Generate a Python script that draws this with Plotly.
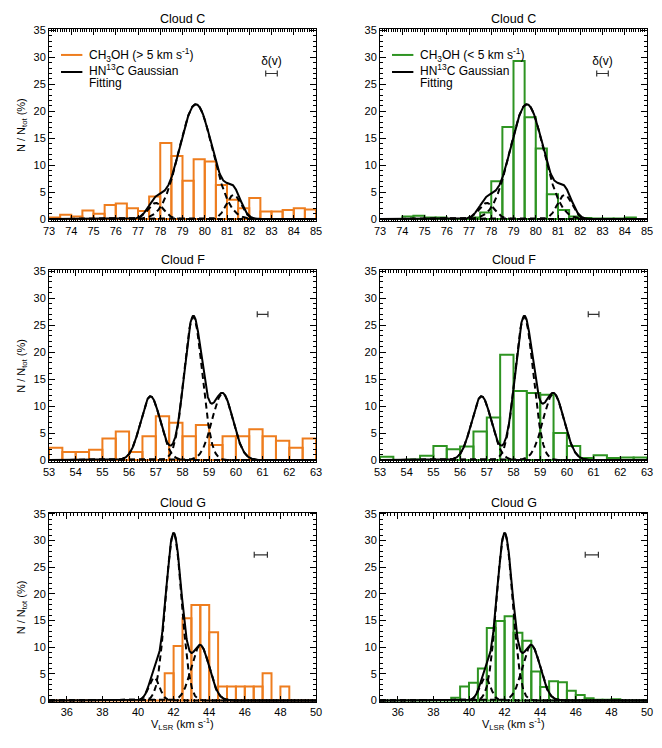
import numpy as np
import plotly.graph_objects as go

# ---------------- data ----------------
clouds = ["Cloud C", "Cloud F", "Cloud G"]
x_ranges = [[73, 85], [53, 63], [35, 50]]
x_dticks = [1, 1, 2]
x_minor = [0.1, 0.1, 0.2]

bin_width = 0.5
# lower edges of histogram bins
c_edges = [73.0, 73.5, 74.0, 74.5, 75.0, 75.5, 76.0, 76.5, 77.0, 77.5, 78.0, 78.5,
           79.0, 79.5, 80.0, 80.5, 81.0, 81.5, 82.0, 82.5, 83.0, 83.5, 84.0, 84.5]
f_edges = [53.0, 53.5, 54.0, 54.5, 55.0, 55.5, 56.0, 56.5, 57.0, 57.5,
           58.0, 58.5, 59.0, 59.5, 60.0, 60.5, 61.0, 61.5, 62.0, 62.5]
g_edges = [35.0, 35.5, 36.0, 36.5, 37.0, 37.5, 38.0, 38.5, 39.0, 39.5,
           40.0, 40.5, 41.0, 41.5, 42.0, 42.5, 43.0, 43.5, 44.0, 44.5,
           45.0, 45.5, 46.0, 46.5, 47.0, 47.5, 48.0, 48.5, 49.0, 49.5]

# CH3OH (> 5 km/s)  -- orange
c_fast = [0.3, 0.8, 0.5, 1.6, 1.0, 2.6, 2.9, 2.0, 1.5, 4.2, 14.1, 11.7,
          7.1, 11.1, 10.7, 6.3, 3.6, 2.0, 3.9, 1.4, 1.4, 1.7, 2.0, 1.8]
f_fast = [2.3, 1.5, 1.5, 1.9, 4.0, 5.3, 1.5, 4.4, 8.1, 6.9,
          4.4, 6.5, 2.8, 4.4, 4.4, 5.7, 4.4, 3.6, 2.3, 4.0]
g_fast = [0, 0, 0, 0, 0, 0, 0, 0, 0, 0,
          0, 0, 0, 5.1, 10.2, 15.4, 17.9, 17.9, 12.8, 2.6,
          2.6, 2.6, 2.6, 2.6, 5.1, 0, 2.6, 0, 0, 0]

# CH3OH (< 5 km/s)  -- green
c_slow = [0, 0, 0.5, 0.6, 0.3, 0.3, 0, 0, 0.3, 1.2, 7.0, 17.1,
          29.3, 18.9, 13.1, 4.6, 1.7, 0.5, 0.2, 0.1, 0.1, 0.1, 0.3, 0]
f_slow = [0.6, 0, 0.1, 0.8, 2.6, 2.0, 2.5, 5.3, 7.9, 19.5,
          12.8, 12.4, 12.1, 5.0, 2.6, 0.4, 0.9, 0.4, 0.5, 0.5]
g_slow = [0, 0, 0, 0, 0, 0, 0, 0, 0.5, 2.6,
          3.3, 6.0, 13.6, 14.9, 15.8, 12.7, 11.2, 5.4, 2.5, 3.6,
          3.4, 1.8, 1.0, 0.4, 0.1, 0.1, 0.2, 0, 0, 0]

# HN13C Gaussian fit components (amplitude %, centre km/s, sigma km/s)
c_amp, c_cen, c_sig = [3.0, 21.3, 4.5], [77.8, 79.6, 81.3], [0.35, 0.75, 0.33]
f_amp, f_cen, f_sig = [11.8, 26.5, 12.3], [56.8, 58.4, 59.5], [0.37, 0.34, 0.39]
g_amp, g_cen, g_sig = [4.3, 31.3, 10.3], [40.9, 42.0, 43.5], [0.30, 0.45, 0.50]

# velocity resolution bars delta(v): centre, half width, level
dv_center = [83.0, 61.0, 46.9]
dv_half = [0.26, 0.20, 0.37]
dv_level = [27.0, 27.0, 27.3]

edges = [c_edges, f_edges, g_edges]
fast = [c_fast, f_fast, g_fast]
slow = [c_slow, f_slow, g_slow]
fits = [(c_amp, c_cen, c_sig), (f_amp, f_cen, f_sig), (g_amp, g_cen, g_sig)]

ORANGE = "#EE7D1E"
GREEN = "#2E9422"
FONT = "Liberation Sans, Arial, sans-serif"

# ---------------- layout geometry ----------------
W, H = 662, 748
col_px = [(49, 316), (380, 647)]
row_px = [(29.3, 220.7), (270.0, 461.7), (512.7, 702.0)]

fig = go.Figure()
layout = dict(width=W, height=H, margin=dict(l=0, r=0, t=0, b=0, autoexpand=False),
              template="none",
              paper_bgcolor="white", plot_bgcolor="white", showlegend=False,
              font=dict(family=FONT, size=11, color="black"))
annotations = []
shapes = []

def gauss(x, a, c, s):
    return a * np.exp(-(x - c) ** 2 / (2 * s ** 2))

idx = 0
for r in range(3):
    for c in range(2):
        idx += 1
        xa = "x" if idx == 1 else f"x{idx}"
        ya = "y" if idx == 1 else f"y{idx}"
        xk = "xaxis" if idx == 1 else f"xaxis{idx}"
        yk = "yaxis" if idx == 1 else f"yaxis{idx}"
        x0p, x1p = col_px[c]
        y0p, y1p = row_px[r]
        xdom = [x0p / W, x1p / W]
        ydom = [1 - y1p / H, 1 - y0p / H]

        vals = fast[r] if c == 0 else slow[r]
        col = ORANGE if c == 0 else GREEN
        centers = [e + bin_width / 2 for e in edges[r]]
        fig.add_trace(go.Bar(x=centers, y=vals, width=bin_width, xaxis=xa, yaxis=ya,
                             marker=dict(color="rgba(0,0,0,0)", line=dict(color=col, width=2))))

        amp, cen, sig = fits[r]
        xx = np.linspace(x_ranges[r][0], x_ranges[r][1], 1200)
        total = np.zeros_like(xx)
        for a, m, s in zip(amp, cen, sig):
            comp = gauss(xx, a, m, s)
            total += comp
            fig.add_trace(go.Scatter(x=xx, y=comp, mode="lines", xaxis=xa, yaxis=ya,
                                     line=dict(color="black", width=2, dash="6px,4px")))
        fig.add_trace(go.Scatter(x=xx, y=total, mode="lines", xaxis=xa, yaxis=ya,
                                 line=dict(color="black", width=2)))

        # velocity resolution bar
        fig.add_trace(go.Scatter(x=[dv_center[r]], y=[dv_level[r]], mode="markers", xaxis=xa, yaxis=ya,
                                 marker=dict(size=1, color="rgba(0,0,0,0)"),
                                 error_x=dict(type="data", array=[dv_half[r]], color="#333333",
                                              thickness=1.2, width=3)))
        if r == 0:
            fig.add_trace(go.Scatter(x=[dv_center[r]], y=[dv_level[r] + 1.1], mode="text",
                                     text=["δ(v)"], textposition="top center", xaxis=xa, yaxis=ya,
                                     textfont=dict(size=12, family=FONT, color="black")))

        axcommon = dict(showgrid=False, zeroline=False, showline=True, linecolor="black",
                        linewidth=1, mirror="allticks", ticks="inside", ticklen=6,
                        automargin=False,
                        tickcolor="black", tickfont=dict(size=11, family=FONT, color="black"))
        layout[xk] = dict(axcommon, domain=xdom, anchor=ya, range=x_ranges[r],
                          dtick=x_dticks[r], tick0=0,
                          minor=dict(dtick=x_minor[r], ticks="inside", ticklen=3, tickcolor="black"))
        layout[yk] = dict(axcommon, domain=ydom, anchor=xa, range=[-0.3, 35.2],
                          tickvals=[0, 5, 10, 15, 20, 25, 30, 35],
                          minor=dict(dtick=1, ticks="inside", ticklen=3, tickcolor="black"))

        # panel title
        annotations.append(dict(text=clouds[r], xref=f"{xa} domain", yref="paper",
                                x=0.5, y=1 - (y0p - 10) / H, showarrow=False,
                                xanchor="center", yanchor="middle",
                                font=dict(size=12.5, family=FONT, color="black")))
        if c == 0:
            annotations.append(dict(text="N / N<sub>tot</sub> (%)", xref="paper", yref="paper",
                                    x=22 / W, y=1 - (y0p + y1p) / 2 / H, textangle=-90,
                                    showarrow=False, xanchor="center", yanchor="middle",
                                    font=dict(size=11, family=FONT, color="black")))
        if r == 2:
            annotations.append(dict(text="V<sub>LSR</sub> (km s<sup>-1</sup>)", xref=f"{xa} domain",
                                    yref="paper", x=0.5, y=1 - 724 / H, showarrow=False,
                                    xanchor="center", yanchor="middle",
                                    font=dict(size=11, family=FONT, color="black")))
        if r == 0:
            label = "CH<sub>3</sub>OH (> 5 km s<sup>-1</sup>)" if c == 0 else "CH<sub>3</sub>OH (< 5 km s<sup>-1</sup>)"
            shapes.append(dict(type="line", xref=f"{xa} domain", yref=f"{ya} domain",
                               x0=0.045, x1=0.125, y0=0.866, y1=0.866,
                               line=dict(color=col, width=2)))
            shapes.append(dict(type="line", xref=f"{xa} domain", yref=f"{ya} domain",
                               x0=0.045, x1=0.125, y0=0.777, y1=0.777,
                               line=dict(color="black", width=2)))
            annotations.append(dict(text=label, xref=f"{xa} domain", yref=f"{ya} domain",
                                    x=0.143, y=0.866, showarrow=False, xanchor="left",
                                    yanchor="middle", font=dict(size=12, family=FONT, color="black")))
            annotations.append(dict(text="HN<sup>13</sup>C Gaussian", xref=f"{xa} domain",
                                    yref=f"{ya} domain", x=0.143, y=0.787, showarrow=False,
                                    xanchor="left", yanchor="middle",
                                    font=dict(size=12, family=FONT, color="black")))
            annotations.append(dict(text="Fitting", xref=f"{xa} domain", yref=f"{ya} domain",
                                    x=0.143, y=0.722, showarrow=False, xanchor="left",
                                    yanchor="middle", font=dict(size=12, family=FONT, color="black")))

layout["annotations"] = annotations
layout["shapes"] = shapes
layout["barmode"] = "overlay"
fig.update_layout(**layout)
fig.write_html("out.html", config={"displayModeBar": False},
               post_script="document.body.style.margin='0px';document.body.style.overflow='hidden';")
